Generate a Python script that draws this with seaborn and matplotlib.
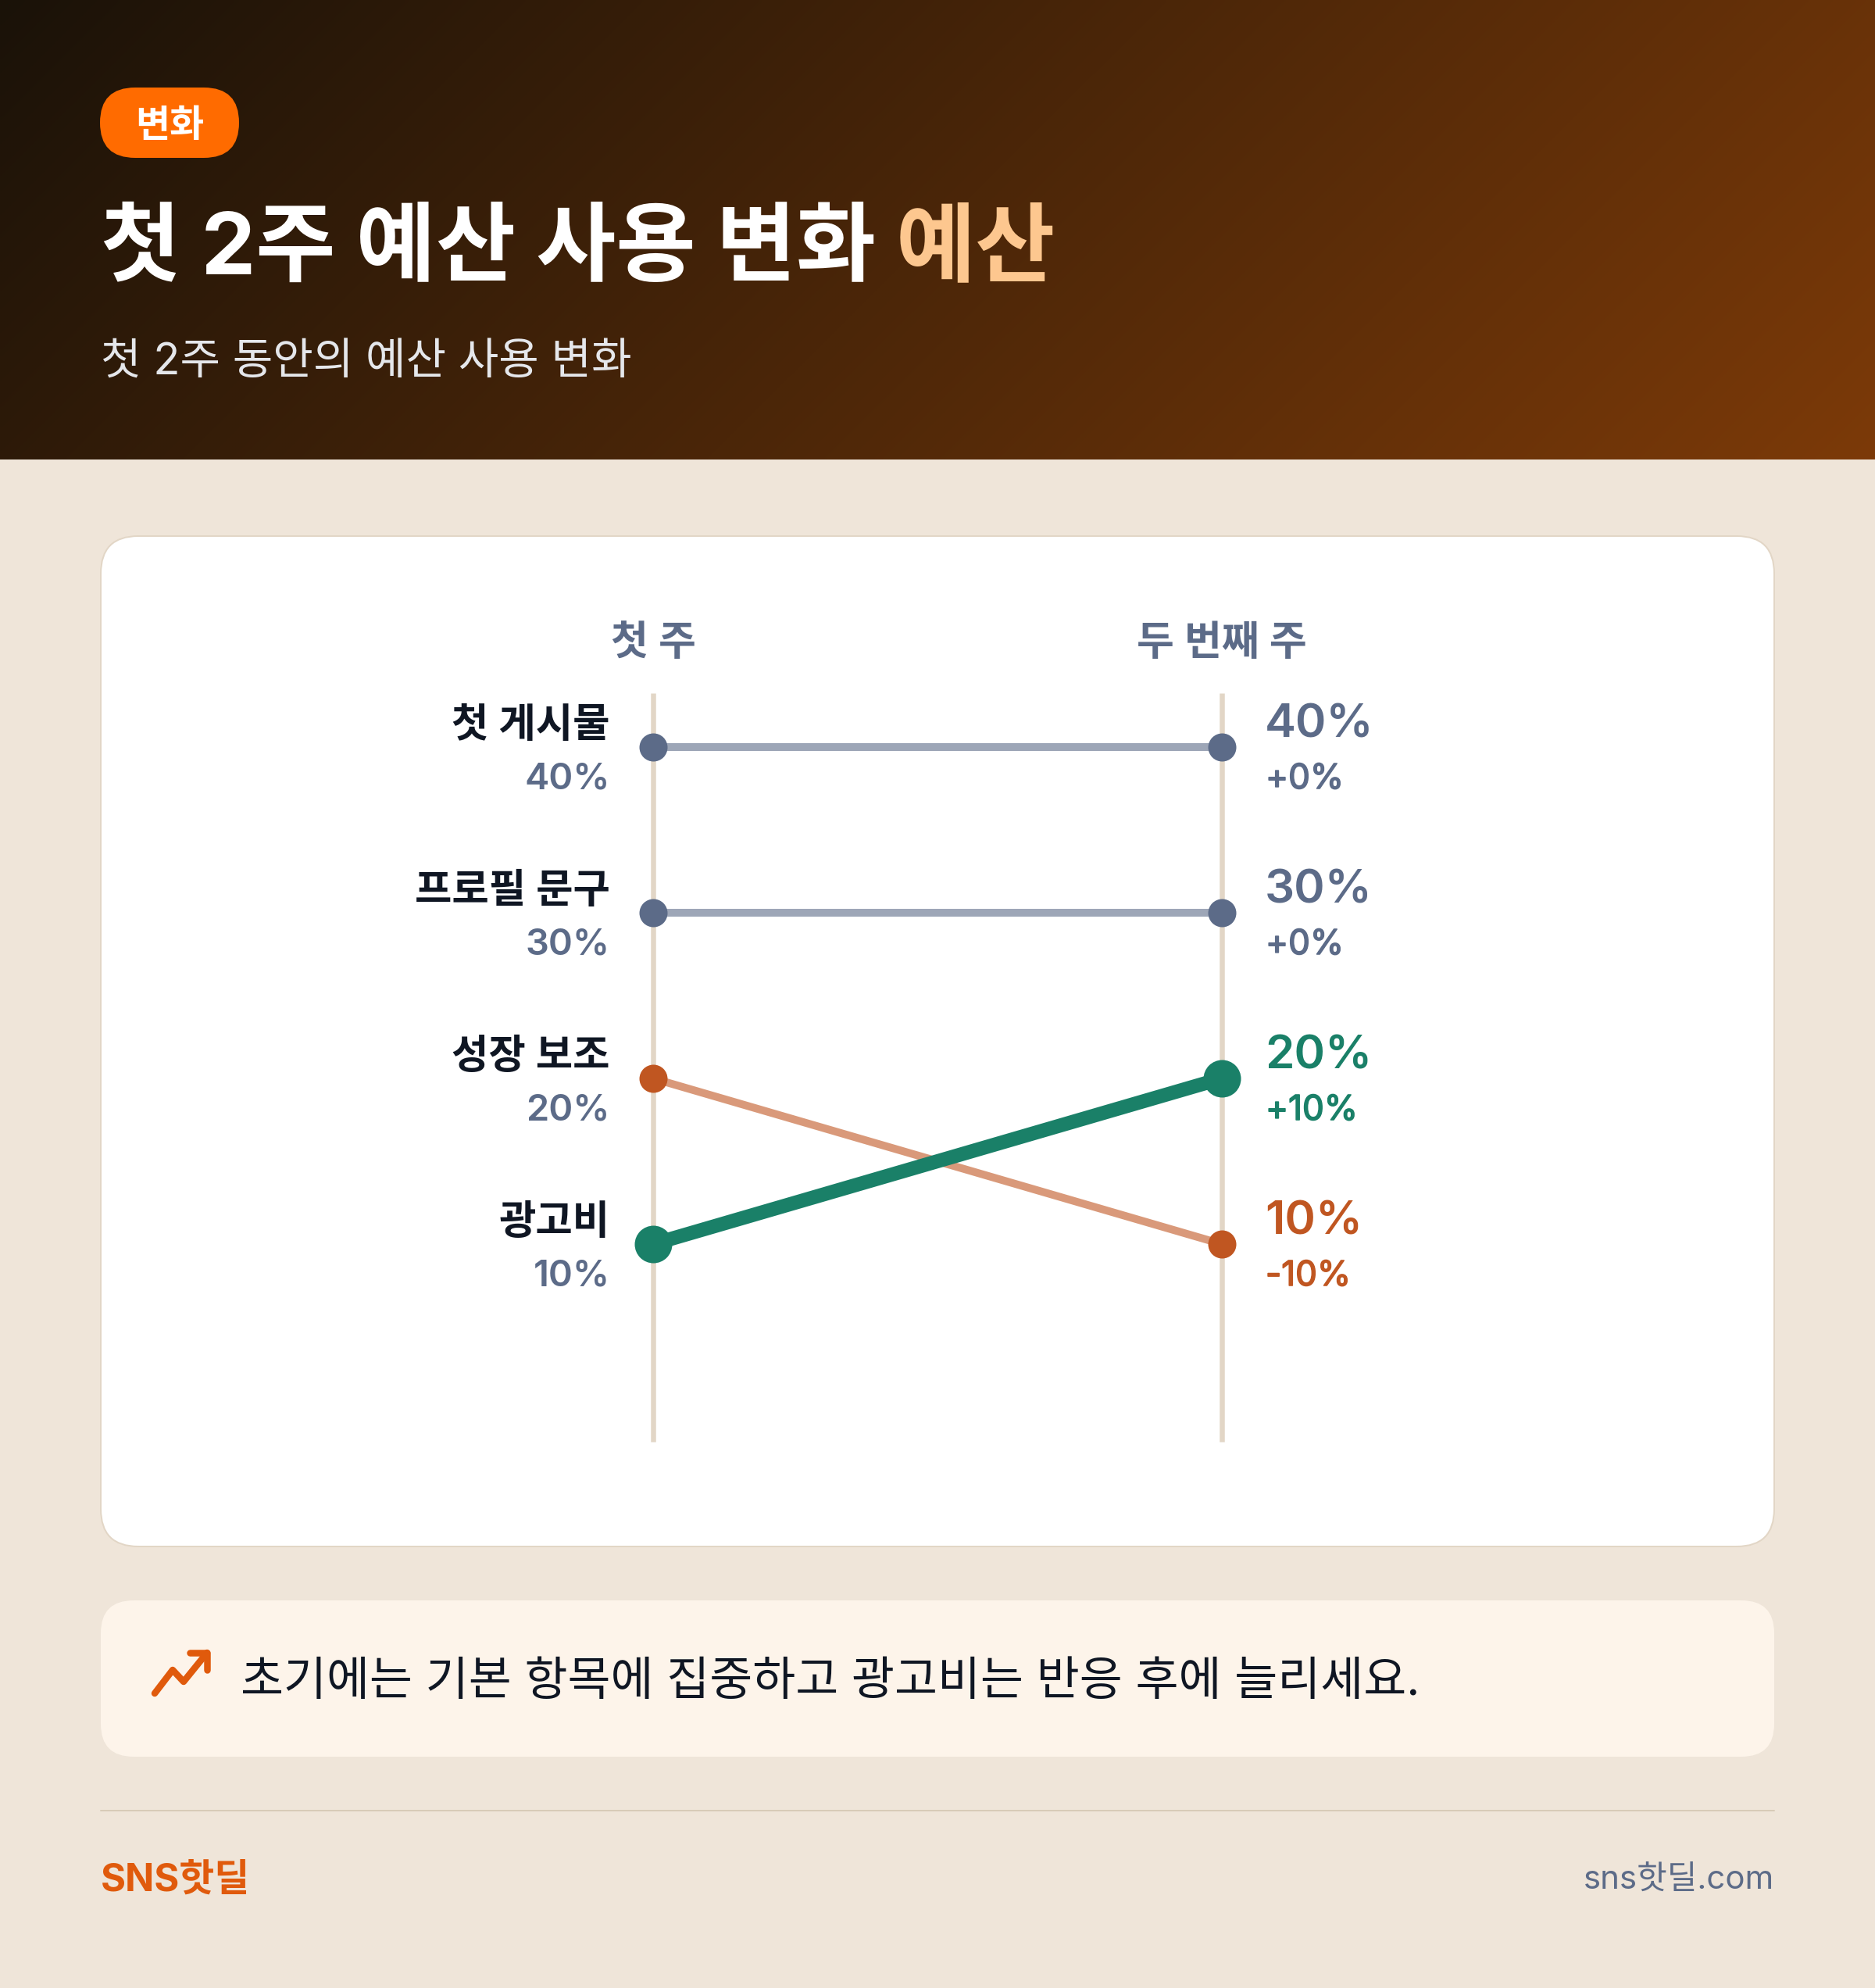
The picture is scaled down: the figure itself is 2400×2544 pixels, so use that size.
import numpy as np
import pandas as pd
import matplotlib
matplotlib.use("Agg")
import matplotlib.pyplot as plt
import matplotlib.patheffects as pe
import seaborn as sns
from matplotlib.patches import FancyBboxPatch

# ----------------------------
# DATA
# ----------------------------
ITEMS = ["첫 게시물", "프로필 문구", "성장 보조", "광고비"]
WEEKS = ["첫 주", "두 번째 주"]
WEEK1 = [40, 30, 20, 10]
WEEK2 = [40, 30, 10, 20]
CHANGE = ["+0%", "+0%", "-10%", "+10%"]

# ----------------------------
# STYLE
# ----------------------------
W, H = 2400, 2544
DPI = 200
BG = "#efe5d9"
SLATE = "#5c6b88"
INK = "#0f1623"
GREEN = "#1a8068"
RUST = "#c05621"
ORANGE = "#e05a0c"
ITEM_COLORS = [SLATE, SLATE, RUST, GREEN]
ITEM_WIDTH = [10, 10, 10, 18]
ITEM_ALPHA = [0.6, 0.6, 0.6, 1.0]
ITEM_DOT = [18, 18, 18, 24]


def px(n):
    # picture pixels to points
    return n * 72 / DPI


sns.set_theme(style="white")
plt.rcParams["font.family"] = ["Inter", "Noto Sans CJK KR", "DejaVu Sans"]

fig = plt.figure(figsize=(W / DPI, H / DPI), dpi=DPI, facecolor=BG)

# page layer in picture pixels, y going down
page = fig.add_axes([0, 0, 1, 1])
page.axis("off")

# header gradient
gx, gy = np.meshgrid(np.linspace(0, 1, 600), np.linspace(0, 1, 147))
t = (gx * W + gy * 588) / (W + 588)
c0 = np.array([0x1a, 0x12, 0x08]) / 255
c1 = np.array([0x7c, 0x3a, 0x08]) / 255
grad = c0 + (c1 - c0) * t[..., None]
page.imshow(grad, extent=[0, W, 588, 0], aspect="auto", zorder=1, interpolation="bilinear")
page.set_xlim(0, W)
page.set_ylim(H, 0)


def rbox(x0, y0, x1, y1, r, fc, ec="none", lw=0, z=2):
    page.add_patch(FancyBboxPatch((x0 + r, y0 + r), x1 - x0 - 2 * r, y1 - y0 - 2 * r,
                                  boxstyle=f"round,pad={r},rounding_size={r}",
                                  fc=fc, ec=ec, lw=lw, zorder=z))


rbox(128, 112, 306, 202, 45, "#ff6b00", z=3)
page.text(217, 157, "변화", color="white", fontsize=px(48), fontweight="bold",
          ha="center", va="center_baseline", zorder=4)

t1 = page.text(129, 311, "첫 2주 예산 사용 변화", color="white", fontsize=px(111), fontweight="bold",
               ha="left", va="center_baseline", zorder=4)
fig.canvas.draw()
end = t1.get_window_extent().x1
page.text(end + 26, 311, "예산", color="#fdc78f", fontsize=px(111), fontweight="bold",
          ha="left", va="center_baseline", zorder=4)
page.text(129, 459, "첫 2주 동안의 예산 사용 변화", color="#e5e7eb", fontsize=px(56),
          ha="left", va="center_baseline", zorder=4)

# card, tip box, footer
rbox(129, 686, 2271, 1979, 48, "white", ec="#e2d6c6", lw=px(2))
rbox(129, 2048, 2271, 2248, 42, "#fdf4ea")
page.plot(*zip((198, 2167), (221, 2137), (235, 2152), (265, 2115)), color=ORANGE, lw=px(8.5),
          solid_capstyle="round", solid_joinstyle="round", zorder=4)
page.plot(*zip((243, 2115), (265, 2115), (265, 2137)), color=ORANGE, lw=px(8.5),
          solid_capstyle="round", solid_joinstyle="round", zorder=4)
page.text(308, 2147, "초기에는 기본 항목에 집중하고 광고비는 반응 후에 늘리세요.", color=INK, fontsize=px(59.8),
          ha="left", va="center_baseline", zorder=4)
page.plot([129, 2271], [2317, 2317], color="#d8cbb8", lw=px(2), zorder=2)
page.text(129, 2402, "SNS핫딜", color=ORANGE, fontsize=px(49), fontweight="bold",
          ha="left", va="center_baseline", zorder=4)
page.text(2271, 2402, "sns핫딜.com", color=SLATE, fontsize=px(42),
          ha="right", va="center_baseline", zorder=4)

# ----------------------------
# SLOPE CHART
# ----------------------------
# week 0 at x=836 and week 1 at x=1564, 21.2 px per percent with 40% at y=956
ax = fig.add_axes([836 / W, 1 - 1845 / H, (1564 - 836) / W, (1845 - 887) / H], zorder=5)
ax.patch.set_alpha(0)
ax.axis("off")

long_df = pd.DataFrame({
    "item": ITEMS * 2,
    "week": [0] * 4 + [1] * 4,
    "value": WEEK1 + WEEK2,
})

ax.axvline(0, color="#e2d6c6", lw=px(6.5), zorder=1, clip_on=False, solid_capstyle="butt")
ax.axvline(1, color="#e2d6c6", lw=px(6.5), zorder=1, clip_on=False, solid_capstyle="butt")

for i, item in enumerate(ITEMS):
    d = long_df[long_df["item"] == item]
    sns.lineplot(data=d, x="week", y="value", color=ITEM_COLORS[i], lw=px(ITEM_WIDTH[i]),
                 alpha=ITEM_ALPHA[i], ax=ax, zorder=2, legend=False, errorbar=None,
                 solid_capstyle="butt")
    sns.scatterplot(data=d, x="week", y="value", color=ITEM_COLORS[i], s=px(2 * ITEM_DOT[i]) ** 2,
                    linewidth=0, ax=ax, zorder=3, legend=False, clip_on=False)

ax.set_xlim(0, 1)
ax.set_ylim(40 - (1845 - 956) / 21.2, 40 + (956 - 887) / 21.2)
ax.set_xlabel("")
ax.set_ylabel("")

for x, lab in zip([836, 1564], WEEKS):
    page.text(x, 819, lab, color=SLATE, fontsize=px(52), fontweight="semibold",
              ha="center", va="center_baseline", zorder=6)

for i, item in enumerate(ITEMS):
    y0 = 956 + (40 - WEEK1[i]) * 21.2
    y1 = 956 + (40 - WEEK2[i]) * 21.2
    page.text(781, y0 - 32, item, color=INK, fontsize=px(51.5), fontweight="semibold",
              ha="right", va="center_baseline", zorder=6)
    page.text(781, y0 + 36, f"{WEEK1[i]}%", color=SLATE, fontsize=px(47), fontweight="semibold",
              ha="right", va="center_baseline", zorder=6)
    page.text(1619, y1 - 34, f"{WEEK2[i]}%", color=ITEM_COLORS[i], fontsize=px(60), fontweight="semibold",
              ha="left", va="center_baseline", zorder=6)
    # regular weight with a thin stroke, closer to the medium weight of the picture
    page.text(1620, y1 + 37, CHANGE[i], color=ITEM_COLORS[i], fontsize=px(44),
              ha="left", va="center_baseline", zorder=6,
              path_effects=[pe.withStroke(linewidth=px(1.6), foreground=ITEM_COLORS[i])])

fig.savefig("out.png", dpi=DPI, facecolor=BG)
